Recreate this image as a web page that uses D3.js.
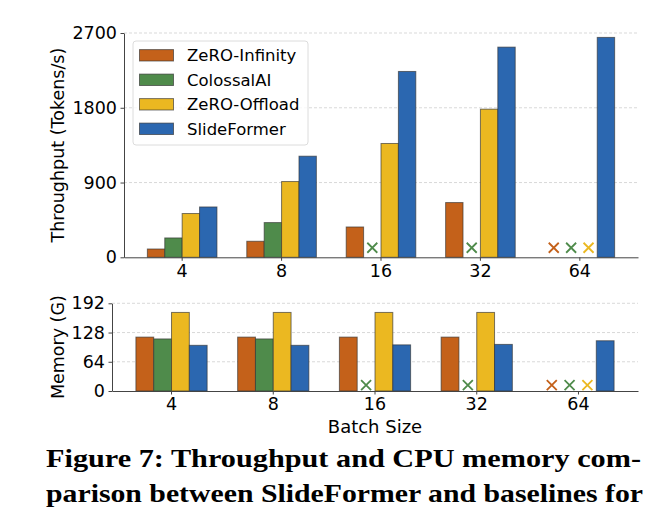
<!DOCTYPE html>
<html>
<head>
<meta charset="utf-8">
<script src="https://cdn.jsdelivr.net/npm/d3@7"></script>
<style>
  body { margin: 0; background: #fff; }
  svg { display: block; }
</style>
</head>
<body>
<script>
'use strict';

//Data =======================
var batchSizes = ['4', '8', '16', '32', '64'];
var seriesNames = ['ZeRO-Infinity', 'ColossalAI', 'ZeRO-Offload', 'SlideFormer'];
var seriesColors = ['#c4611a', '#4f8b4b', '#ebb821', '#2b67b0'];

// throughput (tokens/s), null = failed (drawn as x)
var thrZeroInfinity = [100, 193, 365, 659, null];
var thrColossalAI   = [233, 418, null, null, null];
var thrZeroOffload  = [527, 912, 1370, 1783, null];
var thrSlideFormer  = [606, 1217, 2237, 2530, 2647];
var thrTicks = [0, 900, 1800, 2700];
var thrFailMark = 115;

// CPU memory (G)
var memZeroInfinity = [118, 118, 118, 118, null];
var memColossalAI   = [114, 114, null, null, null];
var memZeroOffload  = [172, 172, 172, 172, null];
var memSlideFormer  = [100, 100, 101, 102, 110];
var memTicks = [0, 64, 128, 192];
var memFailMark = 13;

var captionLines = [
  'Figure 7: Throughput and CPU memory com-',
  'parison between SlideFormer and baselines for'
];

//Sizing things.
var width = 647, height = 518;
var font = 'DejaVu Sans, sans-serif';

var svg = d3.select('body').append('svg')
    .attr('width', width)
    .attr('height', height);

// one panel = bars + fail markers + axes + grid
function drawPanel(opts) {
  var series = opts.series;
  var x = d3.scaleBand().domain(batchSizes)
      .range([opts.left, opts.right])
      .paddingInner(0.3).paddingOuter(0.235);
  var xs = d3.scaleBand().domain(d3.range(series.length))
      .range([0, x.bandwidth()]);
  var y = d3.scaleLinear().domain([0, opts.max])
      .range([opts.bottom, opts.top]);

  var g = svg.append('g');

  // dashed grid
  g.selectAll('line.grid').data(opts.ticks.filter(function (t) { return t > 0; }))
    .enter().append('line')
    .attr('x1', opts.left).attr('x2', opts.right)
    .attr('y1', function (d) { return y(d); })
    .attr('y2', function (d) { return y(d); })
    .attr('stroke', '#cfcfcf')
    .attr('stroke-width', 0.8)
    .attr('stroke-dasharray', '3,2');

  series.forEach(function (vals, si) {
    var bars = vals.map(function (v, i) { return { b: batchSizes[i], v: v }; });

    g.selectAll(null).data(bars.filter(function (d) { return d.v !== null; }))
      .enter().append('rect')
      .attr('x', function (d) { return x(d.b) + xs(si); })
      .attr('y', function (d) { return y(d.v); })
      .attr('width', xs.bandwidth())
      .attr('height', function (d) { return y(0) - y(d.v); })
      .attr('fill', seriesColors[si])
      .attr('stroke', '#333')
      .attr('stroke-opacity', 0.65)
      .attr('stroke-width', 1);

    //failed runs get an x
    var fails = g.selectAll(null).data(bars.filter(function (d) { return d.v === null; }))
      .enter().append('g')
      .attr('transform', function (d) {
        return 'translate(' + (x(d.b) + xs(si) + xs.bandwidth() / 2) + ',' + y(opts.failMark) + ')';
      });
    fails.append('path')
      .attr('d', 'M-5,-5L5,5M-5,5L5,-5')
      .attr('stroke', seriesColors[si])
      .attr('stroke-width', 1.8)
      .attr('fill', 'none');
  });

  // axes
  var xAxis = g.append('g')
    .attr('transform', 'translate(0,' + opts.bottom + ')')
    .call(d3.axisBottom(x).tickSize(3.5).tickPadding(3.5).tickSizeOuter(0));
  var yAxis = g.append('g')
    .attr('transform', 'translate(' + opts.left + ',0)')
    .call(d3.axisLeft(y).tickValues(opts.ticks).tickFormat(d3.format('d'))
      .tickSize(3.5).tickPadding(3.5).tickSizeOuter(0));

  [xAxis, yAxis].forEach(function (a) {
    a.selectAll('path.domain').attr('stroke', '#444').attr('stroke-width', 1);
    a.selectAll('.tick line').attr('stroke', '#444');
    a.selectAll('text')
      .attr('fill', '#000')
      .style('font-family', font)
      .style('font-size', '17.5px');
  });

  // y label
  g.append('text')
    .attr('transform', 'translate(64,' + ((opts.top + opts.bottom) / 2) + ') rotate(-90)')
    .attr('text-anchor', 'middle')
    .style('font-family', font)
    .style('font-size', '17.5px')
    .text(opts.yLabel);

  return x;
}

drawPanel({
  series: [thrZeroInfinity, thrColossalAI, thrZeroOffload, thrSlideFormer],
  left: 124, right: 638, top: 33, bottom: 257.3,
  max: 2700, ticks: thrTicks, failMark: thrFailMark,
  yLabel: 'Throughput (Tokens/s)'
});

drawPanel({
  series: [memZeroInfinity, memColossalAI, memZeroOffload, memSlideFormer],
  left: 112, right: 638, top: 303.3, bottom: 391,
  max: 192, ticks: memTicks, failMark: memFailMark,
  yLabel: 'Memory (G)'
});

svg.append('text')
  .attr('x', (112 + 638) / 2)
  .attr('y', 433)
  .attr('text-anchor', 'middle')
  .style('font-family', font)
  .style('font-size', '18px')
  .text('Batch Size');

// legend (top panel, upper left)
var legend = svg.append('g').attr('transform', 'translate(133,41)');
legend.append('rect')
  .attr('width', 175).attr('height', 104)
  .attr('rx', 3)
  .attr('fill', '#fff').attr('fill-opacity', 0.8)
  .attr('stroke', '#dcdcdc');

var items = legend.selectAll('g.item').data(seriesNames)
  .enter().append('g')
  .attr('transform', function (d, i) { return 'translate(0,' + (14.3 + i * 24.5) + ')'; });
items.append('rect')
  .attr('x', 6.5).attr('y', -5.7)
  .attr('width', 34).attr('height', 11.4)
  .attr('fill', function (d, i) { return seriesColors[i]; })
  .attr('stroke', '#333').attr('stroke-opacity', 0.65);
items.append('text')
  .attr('x', 54).attr('dy', '0.36em')
  .style('font-family', font)
  .style('font-size', '16.5px')
  .text(function (d) { return d; });

// caption below the figure
svg.selectAll('text.caption').data(captionLines)
  .enter().append('text')
  .attr('class', 'caption')
  .attr('x', 46)
  .attr('y', function (d, i) { return 467 + i * 35; })
  .attr('textLength', function (d, i) { return i === 0 ? 595 : 597; })
  .attr('lengthAdjust', 'spacingAndGlyphs')
  .style('font-family', 'Liberation Serif, serif')
  .style('font-weight', 'bold')
  .style('font-size', '25px')
  .text(function (d) { return d; });
</script>
</body>
</html>
